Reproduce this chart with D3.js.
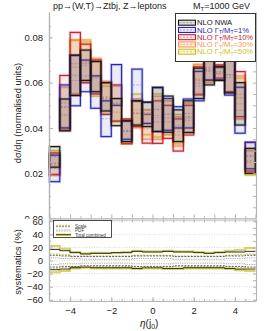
<!DOCTYPE html>
<html>
<head>
  <meta charset='utf-8'>
  <style>
  body { margin: 0; background: #fff; }
  svg { font-family: 'Liberation Sans', Arial, sans-serif; }
  .axis path, .axis line { stroke: #b4b4b4; }
  .axis text { fill: #222; font-size: 9.5px; }
  </style>
</head>
<body>
<script src='https://d3js.org/d3.v7.min.js'></script>
<script>

// bin edges in eta(j0)
var binEdges = [-5, -4.5, -4, -3.5, -3, -2.5, -2, -1.5, -1, -0.5, 0, 0.5, 1, 1.5, 2, 2.5, 3, 3.5, 4, 4.5, 5];

// normalised distributions: band low / high per bin
var nwaLo = [0.0227, 0.0387, 0.0543, 0.061, 0.056, 0.0475, 0.041, 0.034, 0.0413, 0.0406, 0.0384, 0.0381, 0.034, 0.038, 0.053, 0.059, 0.061, 0.0555, 0.0413, 0.020];
var nwaHi = [0.0318, 0.0528, 0.0722, 0.0744, 0.0693, 0.060, 0.053, 0.0432, 0.052, 0.0514, 0.0578, 0.0541, 0.048, 0.052, 0.0664, 0.0708, 0.067, 0.0715, 0.060, 0.031];
var w1Lo = [0.0163, 0.040, 0.0498, 0.056, 0.0487, 0.0362, 0.050, 0.035, 0.052, 0.042, 0.0385, 0.039, 0.040, 0.040, 0.052, 0.0612, 0.0612, 0.0545, 0.0377, 0.022];
var w1Hi = [0.028, 0.059, 0.072, 0.070, 0.063, 0.052, 0.068, 0.043, 0.066, 0.0514, 0.058, 0.053, 0.0494, 0.0528, 0.065, 0.070, 0.067, 0.070, 0.058, 0.0337];
var w10Lo = [0.0195, 0.039, 0.0545, 0.060, 0.055, 0.046, 0.043, 0.033, 0.0406, 0.0333, 0.0332, 0.0354, 0.0298, 0.0369, 0.0546, 0.061, 0.062, 0.056, 0.045, 0.021];
var w10Hi = [0.029, 0.0632, 0.0822, 0.077, 0.070, 0.060, 0.059, 0.044, 0.052, 0.046, 0.052, 0.050, 0.044, 0.050, 0.067, 0.072, 0.0678, 0.071, 0.0649, 0.0337];
var w30Lo = [0.019, 0.040, 0.055, 0.060, 0.055, 0.046, 0.043, 0.0332, 0.040, 0.035, 0.035, 0.037, 0.032, 0.038, 0.055, 0.060, 0.061, 0.0555, 0.044, 0.020];
var w30Hi = [0.0285, 0.058, 0.0786, 0.0789, 0.0708, 0.0607, 0.0585, 0.0438, 0.053, 0.048, 0.054, 0.052, 0.045, 0.051, 0.0681, 0.0715, 0.068, 0.0715, 0.063, 0.030];
var w50Lo = [0.0192, 0.040, 0.055, 0.060, 0.054, 0.046, 0.043, 0.0332, 0.041, 0.037, 0.036, 0.037, 0.033, 0.038, 0.055, 0.060, 0.061, 0.0555, 0.044, 0.0192];
var w50Hi = [0.030, 0.058, 0.079, 0.078, 0.070, 0.0585, 0.059, 0.0435, 0.055, 0.048, 0.055, 0.052, 0.046, 0.051, 0.068, 0.071, 0.0665, 0.0715, 0.062, 0.030];

// systematics (%) per bin
var totNwaUp = [17, 15, 12, 10, 11, 11, 12, 12, 14, 13, 13, 14, 13, 13, 12, 11, 12, 13, 13, 14];
var totNwaDn = [-14, -13, -11, -10, -11, -11, -11, -11, -12, -11, -11, -12, -12, -11, -11, -11, -11, -12, -13, -13];
var tot50Up = [22, 18, 13, 11, 12, 12, 12, 13, 15, 14, 14, 15, 14, 14, 13, 12, 13, 15, 16, 19];
var tot50Dn = [-18, -16, -12, -11, -12, -12, -12, -12, -13, -12, -12, -13, -13, -12, -12, -12, -12, -13, -15, -16];
var scaleNwaUp = [8, 7, 6, 6, 6, 6, 6, 6, 7, 7, 7, 7, 6, 6, 6, 6, 6, 7, 7, 8];
var scaleNwaDn = [-10, -9, -9, -8, -8, -8, -8, -8, -9, -9, -9, -9, -8, -8, -8, -8, -8, -9, -9, -10];
var scale50Up = [10, 9, 7, 7, 7, 7, 7, 7, 8, 8, 8, 8, 7, 7, 7, 7, 7, 8, 9, 10];
var scale50Dn = [-12, -11, -9, -9, -9, -9, -9, -9, -10, -10, -10, -10, -9, -9, -9, -9, -9, -10, -11, -12];
var pdfUp = [4, 3, 3, 2, 2, 2, 2, 2, 3, 3, 3, 3, 2, 2, 2, 2, 2, 3, 3, 4];
var pdfDn = [-6, -5, -5, -4, -4, -4, -4, -4, -5, -5, -5, -5, -4, -4, -4, -4, -4, -5, -5, -6];

var yTicks = [0, 0.02, 0.04, 0.06, 0.08];
var sTicks = [-60, -40, -20, 0, 20, 40, 60];
var xTicks = [-4, -2, 0, 2, 4];

var W = 270, H = 331;
var svg = d3.select('body').append('svg').attr('width', W).attr('height', H);

var x = d3.scaleLinear().domain([-5, 5]).range([49.5, 255.5]);
var y = d3.scaleLinear().domain([0, 0.0912]).range([218.6, 12]);
var ys = d3.scaleLinear().domain([-61.8, 63.4]).range([301, 219]);

var series = [
  {lo: w50Lo, hi: w50Hi, stroke: '#c8bf1e', fill: 'rgba(215,205,70,0.16)', dash: '#c9c060'},
  {lo: w30Lo, hi: w30Hi, stroke: '#f39a55', fill: 'rgba(250,165,95,0.22)', dash: '#e8a878'},
  {lo: w10Lo, hi: w10Hi, stroke: '#c8202a', fill: 'rgba(225,110,125,0.12)', dash: '#c87880'},
  {lo: w1Lo, hi: w1Hi, stroke: '#2424b8', fill: 'rgba(110,110,220,0.14)', dash: '#8888c8'},
  {lo: nwaLo, hi: nwaHi, stroke: '#151515', fill: 'rgba(120,95,85,0.2)', dash: '#888'}
];

// main panel
svg.append('clipPath').attr('id', 'mainclip')
  .append('rect').attr('x', 0).attr('y', 0).attr('width', W).attr('height', 218.8);

var main = svg.append('g').attr('clip-path', 'url(#mainclip)');

series.forEach(function(s) {
  var g = main.append('g');
  var bins = d3.range(s.lo.length);
  g.selectAll('rect.halo').data(bins).enter().append('rect')
    .attr('x', function(i) { return x(binEdges[i]); })
    .attr('width', function(i) { return x(binEdges[i + 1]) - x(binEdges[i]); })
    .attr('y', function(i) { return y(s.hi[i]); })
    .attr('height', function(i) { return y(s.lo[i]) - y(s.hi[i]); })
    .attr('fill', s.fill)
    .attr('stroke', s.stroke)
    .attr('stroke-opacity', 0.22)
    .attr('stroke-width', 2.8);
  g.selectAll('line.mid').data(bins).enter().append('line')
    .attr('x1', function(i) { return x(binEdges[i]) + 1; })
    .attr('x2', function(i) { return x(binEdges[i + 1]) - 1; })
    .attr('y1', function(i) { return y((s.lo[i] + s.hi[i]) / 2); })
    .attr('y2', function(i) { return y((s.lo[i] + s.hi[i]) / 2); })
    .attr('stroke', s.dash)
    .attr('stroke-width', 0.7)
    .attr('stroke-dasharray', '2,1.5');
  g.selectAll('rect.edge').data(bins).enter().append('rect')
    .attr('x', function(i) { return x(binEdges[i]); })
    .attr('width', function(i) { return x(binEdges[i + 1]) - x(binEdges[i]); })
    .attr('y', function(i) { return y(s.hi[i]); })
    .attr('height', function(i) { return y(s.lo[i]) - y(s.hi[i]); })
    .attr('fill', 'none')
    .attr('stroke', s.stroke)
    .attr('stroke-width', 1.1);
});

// main frame axes
main.append('g').attr('class', 'axis').attr('transform', 'translate(49,0)')
  .call(d3.axisLeft(y).tickValues(yTicks).tickFormat(d3.format('.2f')).tickSize(-4).tickSizeOuter(0).tickPadding(6));
main.append('g').attr('class', 'axis').attr('transform', 'translate(49,0)')
  .call(d3.axisLeft(y).tickValues(d3.range(0.005, 0.09, 0.005)).tickFormat('').tickSize(-2).tickSizeOuter(0));
main.append('g').attr('class', 'axis').attr('transform', 'translate(256,0)')
  .call(d3.axisRight(y).tickValues(d3.range(0, 0.09, 0.005)).tickFormat('').tickSize(-3).tickSizeOuter(0));
main.append('g').attr('class', 'axis').attr('transform', 'translate(0,218.3)')
  .call(d3.axisBottom(x).tickValues(d3.range(-5, 5.01, 1)).tickFormat('').tickSize(-4).tickSizeOuter(0));
main.append('g').attr('class', 'axis').attr('transform', 'translate(0,218.3)')
  .call(d3.axisBottom(x).tickValues(d3.range(-4.5, 5, 1)).tickFormat('').tickSize(-2).tickSizeOuter(0));
main.selectAll('.axis path').attr('stroke-width', 1.2);

// legend
var leg = svg.append('g');
leg.append('rect').attr('x', 175.5).attr('y', 13.5).attr('width', 80).attr('height', 48)
  .attr('fill', '#fff').attr('stroke', '#333').attr('stroke-width', 1);
var legItems = [
  {s: series[4], label: 'NLO NWA', w: null},
  {s: series[3], label: null, w: '1%'},
  {s: series[2], label: null, w: '10%'},
  {s: series[1], label: null, w: '30%'},
  {s: series[0], label: null, w: '50%'}
];
legItems.forEach(function(it, k) {
  var cy = 22.7 + k * 7.25;
  leg.append('rect').attr('x', 178.5).attr('y', cy - 2.5).attr('width', 17).attr('height', 5)
    .attr('fill', it.s.fill).attr('stroke', it.s.stroke).attr('stroke-width', 1.1);
  leg.append('line').attr('x1', 179.5).attr('x2', 194.5).attr('y1', cy).attr('y2', cy)
    .attr('stroke', it.s.dash).attr('stroke-width', 0.8).attr('stroke-dasharray', '2,1.5');
  var txt = leg.append('text').attr('x', 197).attr('y', cy + 2.6)
    .attr('font-size', '7.6px').attr('fill', k === 0 ? '#111' : it.s.stroke);
  if (it.label) {
    txt.text(it.label);
  } else {
    txt.append('tspan').text('NLO \u0393');
    txt.append('tspan').attr('font-size', '5px').attr('dy', 1.5).text('T');
    txt.append('tspan').attr('dy', -1.5).text('/M');
    txt.append('tspan').attr('font-size', '5px').attr('dy', 1.5).text('T');
    txt.append('tspan').attr('dy', -1.5).text('=' + it.w);
  }
});

// title
svg.append('text').attr('x', 53).attr('y', 9).attr('font-size', '9px').attr('fill', '#222')
  .text('pp\u2192(W,T)\u2192Ztbj, Z\u2192leptons');
var mt = svg.append('text').attr('x', 193).attr('y', 9).attr('font-size', '9px').attr('fill', '#222');
mt.append('tspan').text('M');
mt.append('tspan').attr('font-size', '6px').attr('dy', 1.8).text('T');
mt.append('tspan').attr('dy', -1.8).text('=1000 GeV');

// y title main
svg.append('text').attr('transform', 'translate(21,113) rotate(-90)')
  .attr('text-anchor', 'middle').attr('font-size', '9.3px').attr('fill', '#222')
  .text('d\u03c3/d\u03b7 (normalised units)');

// lower panel
var low = svg.append('g');
low.append('rect').attr('x', 49).attr('y', 219).attr('width', 207).attr('height', 82).attr('fill', '#fff');

low.selectAll('line.grid').data(sTicks).enter().append('line')
  .attr('x1', 49).attr('x2', 256)
  .attr('y1', function(d) { return ys(d); }).attr('y2', function(d) { return ys(d); })
  .attr('stroke', '#cfcfcf').attr('stroke-width', 0.8).attr('stroke-dasharray', '1,1.5');

var step = d3.line()
  .x(function(d) { return x(d[0]); })
  .y(function(d) { return ys(d[1]); })
  .curve(d3.curveStepAfter);
function pts(arr) {
  var p = arr.map(function(v, i) { return [binEdges[i], v]; });
  p.push([binEdges[arr.length], arr[arr.length - 1]]);
  return p;
}
var sysLines = [
  {d: tot50Up, c: '#c8c020', w: 2, o: 0.7, da: null},
  {d: tot50Dn, c: '#c8c020', w: 2, o: 0.7, da: null},
  {d: totNwaUp, c: '#111', w: 0.9, o: 1, da: null},
  {d: totNwaDn, c: '#111', w: 0.9, o: 1, da: null},
  {d: scale50Up, c: '#c8c020', w: 0.9, o: 1, da: '2,1.2'},
  {d: scale50Dn, c: '#c8c020', w: 0.9, o: 1, da: '2,1.2'},
  {d: scaleNwaUp, c: '#333', w: 0.8, o: 1, da: '2,1.2'},
  {d: scaleNwaDn, c: '#333', w: 0.8, o: 1, da: '2,1.2'},
  {d: pdfUp, c: '#777', w: 0.8, o: 1, da: '0.8,1'},
  {d: pdfDn, c: '#777', w: 0.8, o: 1, da: '0.8,1'}
];
sysLines.forEach(function(l) {
  low.append('path').attr('d', step(pts(l.d)))
    .attr('fill', 'none').attr('stroke', l.c).attr('stroke-width', l.w)
    .attr('stroke-opacity', l.o).attr('stroke-dasharray', l.da);
});

low.append('g').attr('class', 'axis').attr('transform', 'translate(49,0)')
  .call(d3.axisLeft(ys).tickValues(sTicks).tickFormat(function(d) { return d < 0 ? '\u2212' + (-d) : d; }).tickSize(-4).tickSizeOuter(0).tickPadding(6));
low.append('g').attr('class', 'axis').attr('transform', 'translate(49,0)')
  .call(d3.axisLeft(ys).tickValues(d3.range(-50, 61, 20)).tickFormat('').tickSize(-2).tickSizeOuter(0));
low.append('g').attr('class', 'axis').attr('transform', 'translate(256,0)')
  .call(d3.axisRight(ys).tickValues(d3.range(-60, 61, 10)).tickFormat('').tickSize(-3).tickSizeOuter(0));
low.append('g').attr('class', 'axis').attr('transform', 'translate(0,219.5)')
  .call(d3.axisTop(x).tickValues(d3.range(-5, 5.01, 0.5)).tickFormat('').tickSize(-3).tickSizeOuter(0));
low.append('g').attr('class', 'axis').attr('transform', 'translate(0,301)')
  .call(d3.axisBottom(x).tickValues(xTicks).tickFormat(function(d) { return d < 0 ? '\u2212' + (-d) : d; }).tickSize(-4).tickSizeOuter(0).tickPadding(6));
low.append('g').attr('class', 'axis').attr('transform', 'translate(0,301)')
  .call(d3.axisBottom(x).tickValues(d3.range(-4.5, 5, 0.5)).tickFormat('').tickSize(-2).tickSizeOuter(0));
low.selectAll('.axis path').attr('stroke-width', 1.2);

// lower legend
var ll = low.append('g');
ll.append('rect').attr('x', 53.5).attr('y', 220.5).attr('width', 58).attr('height', 17)
  .attr('fill', '#fff').attr('stroke', '#222').attr('stroke-width', 0.8);
var llItems = [
  {t: 'Scale', ly: 226, sw: [{c: '#c8c020', da: '2,1', w: 0.9, o: -0.7}, {c: '#777', da: '2,1', w: 0.9, o: 0.7}]},
  {t: 'PDF', ly: 230.5, sw: [{c: '#999', da: '0.8,0.8', w: 0.8, o: -0.6}, {c: '#999', da: '0.8,0.8', w: 0.8, o: 0.6}]},
  {t: 'Total combined', ly: 235, sw: [{c: '#c8c020', da: null, w: 2.2, o: 0}, {c: '#222', da: null, w: 0.7, o: -0.6}]}
];
llItems.forEach(function(it) {
  it.sw.forEach(function(s) {
    ll.append('line').attr('x1', 56).attr('x2', 71).attr('y1', it.ly + s.o).attr('y2', it.ly + s.o)
      .attr('stroke', s.c).attr('stroke-width', s.w).attr('stroke-dasharray', s.da);
  });
  ll.append('text').attr('x', 75).attr('y', it.ly + 1.6).attr('font-size', '4.6px').attr('fill', '#333').text(it.t);
});

// lower titles
svg.append('text').attr('transform', 'translate(21,262) rotate(-90)')
  .attr('text-anchor', 'middle').attr('font-size', '9.3px').attr('fill', '#222')
  .text('systematics (%)');
var xl = svg.append('text').attr('x', 140).attr('y', 327).attr('font-size', '10px').attr('fill', '#222');
xl.append('tspan').attr('font-style', 'italic').text('\u03b7');
xl.append('tspan').text('(j');
xl.append('tspan').attr('font-size', '7px').attr('dy', 2).text('0');
xl.append('tspan').attr('dy', -2).text(')');

</script>
</body>
</html>
